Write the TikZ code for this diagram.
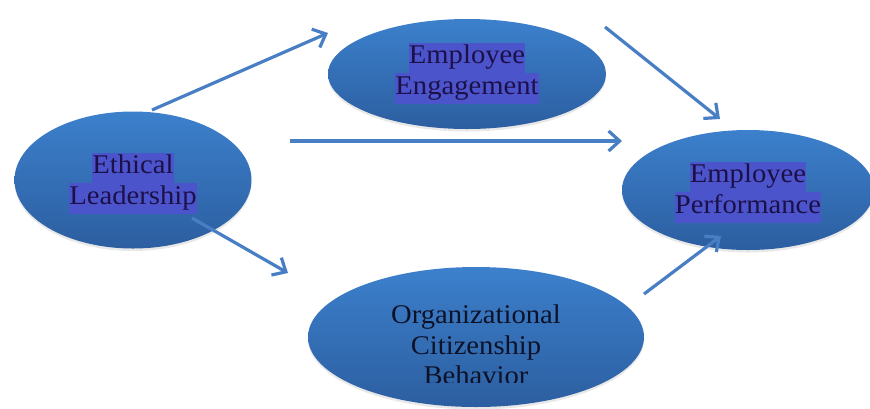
\documentclass[tikz,border=0pt]{standalone}
\usepackage{fontspec}
\setmainfont{Liberation Serif}[FakeStretch=1.06]
\usetikzlibrary{shapes.geometric,arrows.meta,shadows}
\definecolor{elltop}{RGB}{60,128,204}
\definecolor{ellbot}{RGB}{44,94,160}
\definecolor{arrowc}{RGB}{72,126,196}
\definecolor{hlc}{RGB}{76,84,204}
\definecolor{hltext}{RGB}{28,16,72}
\definecolor{plaintext}{RGB}{14,18,40}
\newcommand\hlline[1]{{\setlength{\fboxsep}{0pt}\colorbox{hlc}{\strut #1}}}
\tikzset{
  bubble/.style={ellipse, draw=none, top color=elltop, bottom color=ellbot,
    inner sep=0pt, drop shadow={opacity=0.18, shadow xshift=0pt, shadow yshift=-2.5pt}},
  label text/.style={inner sep=0pt, align=center, text=hltext,
    font=\fontsize{27}{30.5}\selectfont},
  flow/.style={draw=arrowc, line width=3.2pt, -{Straight Barb[length=11pt,width=20pt,line width=3.2pt]}}
}
\begin{document}
\begin{tikzpicture}[x=1pt,y=-1pt]
\useasboundingbox (0,0) rectangle (870,408);
% ellipses
\node[bubble, minimum width=237pt, minimum height=137pt] (el) at (133,180) {};
\node[bubble, minimum width=278pt, minimum height=110pt] (ee) at (467,74) {};
\node[bubble, minimum width=252pt, minimum height=120pt] (ep) at (748,190) {};
\node[bubble, minimum width=336pt, minimum height=140pt] (ocb) at (476,337) {};
% texts
\node[label text] (elt) at (133,183) {\hlline{Ethical}\\\hlline{Leadership}};
\node[label text] (eet) at (467,73) {\hlline{Employee}\\\hlline{Engagement}};
\node[label text] (ept) at (748,192) {\hlline{Employee}\\\hlline{Performance}};
\begin{scope}
\clip (300,260) rectangle (660,382);
\node[label text, text=plaintext] (ocbt) at (476,348) {\strut Organizational\\\strut Citizenship\\\strut Behavior};
\end{scope}
% connector end points
\coordinate (a1s) at (152,110);
\coordinate (a1e) at (328,33);
\coordinate (a2s) at (605,27);
\coordinate (a2e) at (720,119);
\coordinate (a3s) at (290,141);
\coordinate (a3e) at (622,141);
\coordinate (a4s) at (192,218);
\coordinate (a4e) at (288,273);
\coordinate (a5s) at (644,294);
\coordinate (a5e) at (721,236);
\draw[flow] (a1s) -- (a1e);
\draw[flow] (a2s) -- (a2e);
\draw[flow] (a3s) -- (a3e);
\draw[flow] (a4s) -- (a4e);
\draw[flow] (a5s) -- (a5e);
\end{tikzpicture}
\end{document}
